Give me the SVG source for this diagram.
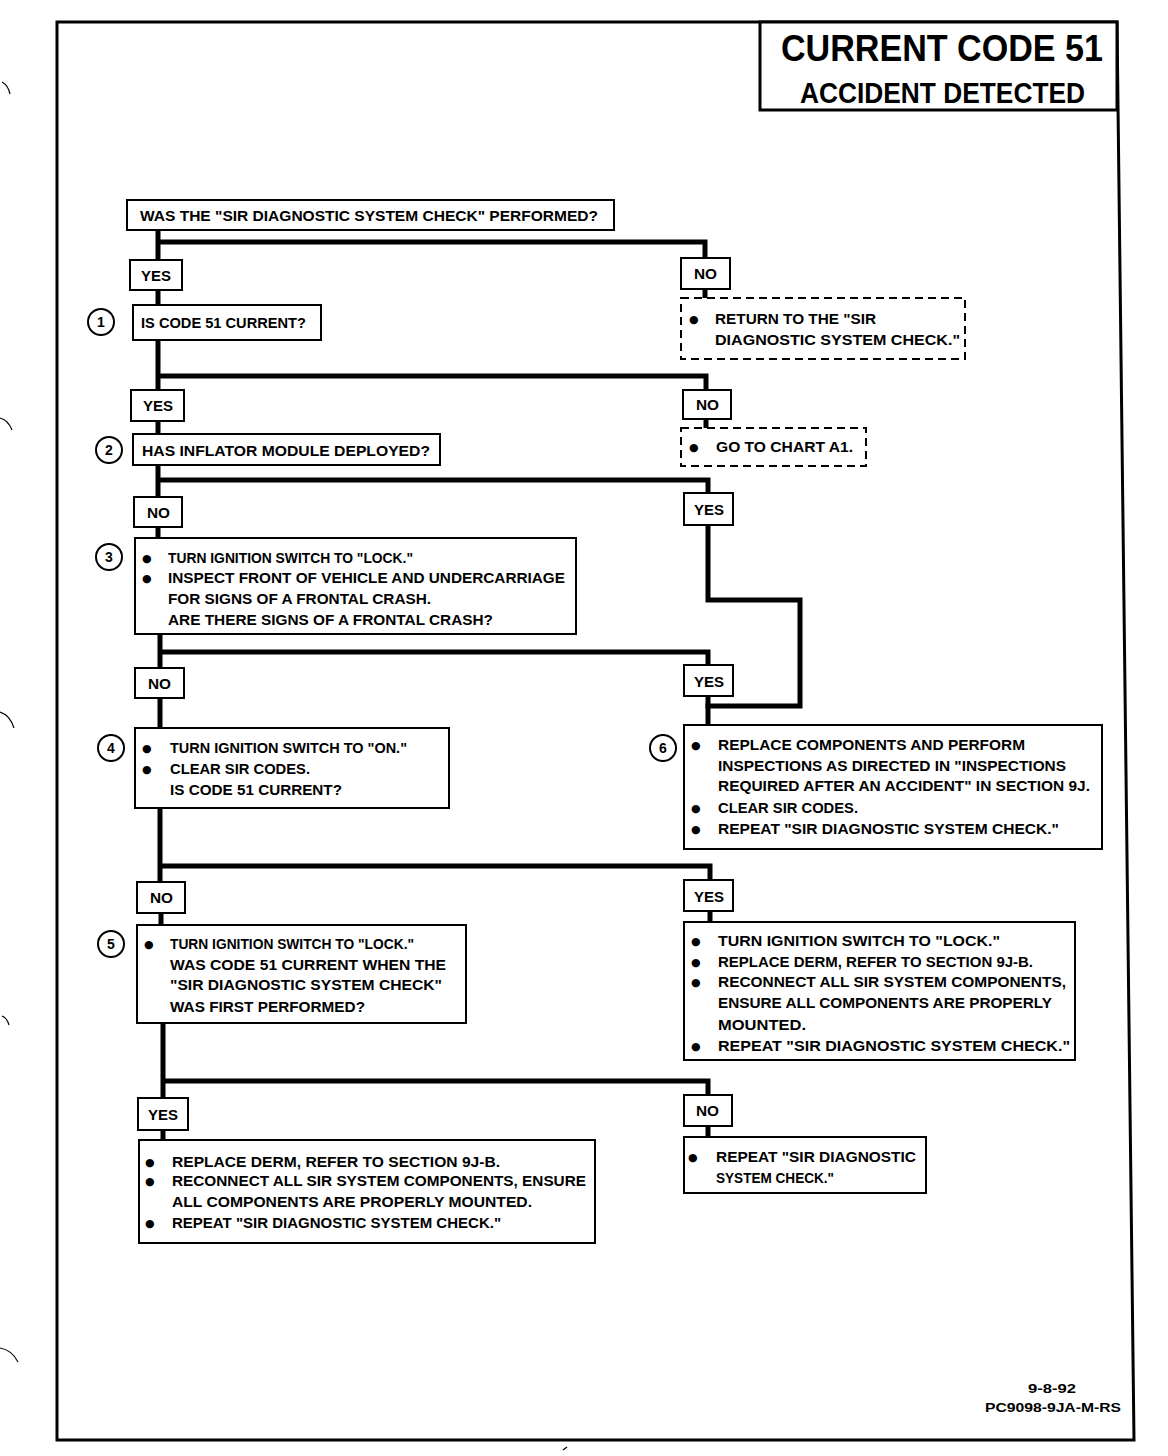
<svg xmlns="http://www.w3.org/2000/svg" width="1168" height="1456" viewBox="0 0 1168 1456">
<style>
.t{font-family:"Liberation Sans",Arial,sans-serif;font-weight:bold;font-size:15px;fill:#000}
.b{font-family:"DejaVu Sans","Liberation Sans",sans-serif;font-size:11px;fill:#000}
.n{font-family:"Liberation Sans",Arial,sans-serif;font-weight:bold;font-size:14px;fill:#000;text-anchor:middle}
.box{fill:#fff;stroke:#000;stroke-width:2}
.dash{fill:#fff;stroke:#000;stroke-width:2;stroke-dasharray:8 5}
.num{fill:#fff;stroke:#000;stroke-width:2}
.c{fill:none;stroke:#000;stroke-width:5;stroke-linejoin:miter;stroke-linecap:square}
</style>
<rect width="1168" height="1456" fill="#fff"/>
<g id="page">
<path d="M57,22 L1117,22 L1134,1440 L57,1440 Z" fill="none" stroke="#000" stroke-width="3"/>
<path d="M2,82 q6,3 8,12 M0,418 q8,2 12,12 M0,712 q10,3 14,16 M2,1016 q5,2 7,9 M0,1348 q12,2 18,14 M563,1450 l4,-3" fill="none" stroke="#000" stroke-width="1.2"/>
</g>
<g id="title">
<rect x="760" y="22" width="357" height="88" fill="#fff" stroke="#000" stroke-width="3"/>
<text x="781" y="61" class="t" style="font-size:36px" textLength="322" lengthAdjust="spacingAndGlyphs">CURRENT CODE 51</text>
<text x="800" y="103" class="t" style="font-size:29px" textLength="285" lengthAdjust="spacingAndGlyphs">ACCIDENT DETECTED</text>
</g>
<g id="connectors">
<path class="c" d="M158,230 V260 M158,242 H705 V258 M705,289 V298 M158,290 V305"/>
<path class="c" d="M158,340 V390 M158,376 H706 V390 M706,419 V428 M158,421 V434"/>
<path class="c" d="M158,465 V497 M158,480 H708 V493 M708,525 V600 H800 V706 H708 M158,527 V538"/>
<path class="c" d="M160,634 V668 M160,652 H708 V665 M708,696 V725 M160,698 V728"/>
<path class="c" d="M160,808 V882 M160,866 H710 V880 M710,911 V922 M161,913 V925"/>
<path class="c" d="M163,1023 V1098 M163,1081 H708 V1095 M708,1126 V1137 M163,1130 V1140"/>
</g>
<g id="q0">
<rect class="box" x="127" y="200" width="487" height="30"/>
<text class="t" x="140" y="221" textLength="458" lengthAdjust="spacingAndGlyphs">WAS THE "SIR DIAGNOSTIC SYSTEM CHECK" PERFORMED?</text>
</g>
<g id="yes1"><rect class="box" x="130" y="260" width="52" height="30"/><text class="t" x="141" y="281" textLength="30" lengthAdjust="spacingAndGlyphs">YES</text></g>
<g id="no1"><rect class="box" x="681" y="258" width="49" height="31"/><text class="t" x="694" y="279" textLength="23" lengthAdjust="spacingAndGlyphs">NO</text></g>
<g id="return1">
<rect class="dash" x="681" y="298" width="284" height="61"/>
<text class="b" x="689" y="323">●</text>
<text class="t" x="715" y="324" textLength="161" lengthAdjust="spacingAndGlyphs">RETURN TO THE "SIR</text>
<text class="t" x="715" y="345" textLength="245" lengthAdjust="spacingAndGlyphs">DIAGNOSTIC SYSTEM CHECK."</text>
</g>
<g id="step1">
<circle class="num" cx="101" cy="322" r="13"/><text class="n" x="101" y="327">1</text>
<rect class="box" x="133" y="305" width="188" height="35"/>
<text class="t" x="141" y="328" textLength="165" lengthAdjust="spacingAndGlyphs">IS CODE 51 CURRENT?</text>
</g>
<g id="yes2"><rect class="box" x="131" y="390" width="53" height="31"/><text class="t" x="143" y="411" textLength="30" lengthAdjust="spacingAndGlyphs">YES</text></g>
<g id="no2"><rect class="box" x="683" y="390" width="48" height="29"/><text class="t" x="696" y="410" textLength="23" lengthAdjust="spacingAndGlyphs">NO</text></g>
<g id="chartA1">
<rect class="dash" x="681" y="428" width="185" height="38"/>
<text class="b" x="689" y="451">●</text>
<text class="t" x="716" y="452" textLength="137" lengthAdjust="spacingAndGlyphs">GO TO CHART A1.</text>
</g>
<g id="step2">
<circle class="num" cx="109" cy="450" r="13"/><text class="n" x="109" y="455">2</text>
<rect class="box" x="133" y="434" width="307" height="31"/>
<text class="t" x="142" y="456" textLength="288" lengthAdjust="spacingAndGlyphs">HAS INFLATOR MODULE DEPLOYED?</text>
</g>
<g id="no3"><rect class="box" x="134" y="497" width="48" height="30"/><text class="t" x="147" y="518" textLength="23" lengthAdjust="spacingAndGlyphs">NO</text></g>
<g id="yes3"><rect class="box" x="684" y="493" width="49" height="32"/><text class="t" x="694" y="515" textLength="30" lengthAdjust="spacingAndGlyphs">YES</text></g>
<g id="step3">
<circle class="num" cx="109" cy="557" r="13"/><text class="n" x="109" y="562">3</text>
<rect class="box" x="135" y="538" width="441" height="96"/>
<text class="b" x="142" y="562">●</text>
<text class="t" x="168" y="563" textLength="245" lengthAdjust="spacingAndGlyphs">TURN IGNITION SWITCH TO "LOCK."</text>
<text class="b" x="142" y="582">●</text>
<text class="t" x="168" y="583" textLength="397" lengthAdjust="spacingAndGlyphs">INSPECT FRONT OF VEHICLE AND UNDERCARRIAGE</text>
<text class="t" x="168" y="604" textLength="263" lengthAdjust="spacingAndGlyphs">FOR SIGNS OF A FRONTAL CRASH.</text>
<text class="t" x="168" y="625" textLength="325" lengthAdjust="spacingAndGlyphs">ARE THERE SIGNS OF A FRONTAL CRASH?</text>
</g>
<g id="no4"><rect class="box" x="135" y="668" width="49" height="30"/><text class="t" x="148" y="689" textLength="23" lengthAdjust="spacingAndGlyphs">NO</text></g>
<g id="yes4"><rect class="box" x="684" y="665" width="49" height="31"/><text class="t" x="694" y="687" textLength="30" lengthAdjust="spacingAndGlyphs">YES</text></g>
<g id="step4">
<circle class="num" cx="111" cy="748" r="13"/><text class="n" x="111" y="753">4</text>
<rect class="box" x="135" y="728" width="314" height="80"/>
<text class="b" x="142" y="752">●</text>
<text class="t" x="170" y="753" textLength="237" lengthAdjust="spacingAndGlyphs">TURN IGNITION SWITCH TO "ON."</text>
<text class="b" x="142" y="773">●</text>
<text class="t" x="170" y="774" textLength="140" lengthAdjust="spacingAndGlyphs">CLEAR SIR CODES.</text>
<text class="t" x="170" y="795" textLength="172" lengthAdjust="spacingAndGlyphs">IS CODE 51 CURRENT?</text>
</g>
<g id="step6">
<circle class="num" cx="663" cy="748" r="13"/><text class="n" x="663" y="753">6</text>
<rect class="box" x="684" y="725" width="418" height="124"/>
<text class="b" x="691" y="749">●</text>
<text class="t" x="718" y="750" textLength="307" lengthAdjust="spacingAndGlyphs">REPLACE COMPONENTS AND PERFORM</text>
<text class="t" x="718" y="771" textLength="348" lengthAdjust="spacingAndGlyphs">INSPECTIONS AS DIRECTED IN "INSPECTIONS</text>
<text class="t" x="718" y="791" textLength="372" lengthAdjust="spacingAndGlyphs">REQUIRED AFTER AN ACCIDENT" IN SECTION 9J.</text>
<text class="b" x="691" y="812">●</text>
<text class="t" x="718" y="813" textLength="140" lengthAdjust="spacingAndGlyphs">CLEAR SIR CODES.</text>
<text class="b" x="691" y="833">●</text>
<text class="t" x="718" y="834" textLength="341" lengthAdjust="spacingAndGlyphs">REPEAT "SIR DIAGNOSTIC SYSTEM CHECK."</text>
</g>
<g id="no5"><rect class="box" x="137" y="882" width="48" height="31"/><text class="t" x="150" y="903" textLength="23" lengthAdjust="spacingAndGlyphs">NO</text></g>
<g id="yes5"><rect class="box" x="684" y="880" width="49" height="31"/><text class="t" x="694" y="902" textLength="30" lengthAdjust="spacingAndGlyphs">YES</text></g>
<g id="step5">
<circle class="num" cx="111" cy="944" r="13"/><text class="n" x="111" y="949">5</text>
<rect class="box" x="137" y="925" width="329" height="98"/>
<text class="b" x="144" y="948">●</text>
<text class="t" x="170" y="949" textLength="244" lengthAdjust="spacingAndGlyphs">TURN IGNITION SWITCH TO "LOCK."</text>
<text class="t" x="170" y="970" textLength="276" lengthAdjust="spacingAndGlyphs">WAS CODE 51 CURRENT WHEN THE</text>
<text class="t" x="170" y="990" textLength="272" lengthAdjust="spacingAndGlyphs">"SIR DIAGNOSTIC SYSTEM CHECK"</text>
<text class="t" x="170" y="1012" textLength="195" lengthAdjust="spacingAndGlyphs">WAS FIRST PERFORMED?</text>
</g>
<g id="replaceDerm1">
<rect class="box" x="684" y="922" width="391" height="138"/>
<text class="b" x="691" y="945">●</text>
<text class="t" x="718" y="946" textLength="282" lengthAdjust="spacingAndGlyphs">TURN IGNITION SWITCH TO "LOCK."</text>
<text class="b" x="691" y="966">●</text>
<text class="t" x="718" y="967" textLength="315" lengthAdjust="spacingAndGlyphs">REPLACE DERM, REFER TO SECTION 9J-B.</text>
<text class="b" x="691" y="986">●</text>
<text class="t" x="718" y="987" textLength="348" lengthAdjust="spacingAndGlyphs">RECONNECT ALL SIR SYSTEM COMPONENTS,</text>
<text class="t" x="718" y="1008" textLength="334" lengthAdjust="spacingAndGlyphs">ENSURE ALL COMPONENTS ARE PROPERLY</text>
<text class="t" x="718" y="1030" textLength="88" lengthAdjust="spacingAndGlyphs">MOUNTED.</text>
<text class="b" x="691" y="1050">●</text>
<text class="t" x="718" y="1051" textLength="352" lengthAdjust="spacingAndGlyphs">REPEAT "SIR DIAGNOSTIC SYSTEM CHECK."</text>
</g>
<g id="yes6"><rect class="box" x="138" y="1098" width="50" height="32"/><text class="t" x="148" y="1120" textLength="30" lengthAdjust="spacingAndGlyphs">YES</text></g>
<g id="no6"><rect class="box" x="684" y="1095" width="48" height="31"/><text class="t" x="696" y="1116" textLength="23" lengthAdjust="spacingAndGlyphs">NO</text></g>
<g id="replaceDerm2">
<rect class="box" x="139" y="1140" width="456" height="103"/>
<text class="b" x="145" y="1166">●</text>
<text class="t" x="172" y="1167" textLength="328" lengthAdjust="spacingAndGlyphs">REPLACE DERM, REFER TO SECTION 9J-B.</text>
<text class="b" x="145" y="1185">●</text>
<text class="t" x="172" y="1186" textLength="414" lengthAdjust="spacingAndGlyphs">RECONNECT ALL SIR SYSTEM COMPONENTS, ENSURE</text>
<text class="t" x="172" y="1207" textLength="360" lengthAdjust="spacingAndGlyphs">ALL COMPONENTS ARE PROPERLY MOUNTED.</text>
<text class="b" x="145" y="1227">●</text>
<text class="t" x="172" y="1228" textLength="329" lengthAdjust="spacingAndGlyphs">REPEAT "SIR DIAGNOSTIC SYSTEM CHECK."</text>
</g>
<g id="repeat">
<rect class="box" x="684" y="1137" width="242" height="56"/>
<text class="b" x="688" y="1161">●</text>
<text class="t" x="716" y="1162" textLength="200" lengthAdjust="spacingAndGlyphs">REPEAT "SIR DIAGNOSTIC</text>
<text class="t" x="716" y="1183" textLength="118" lengthAdjust="spacingAndGlyphs">SYSTEM CHECK."</text>
</g>
<g id="footer">
<text class="t" x="1052" y="1393" style="font-size:13px;text-anchor:middle" textLength="48" lengthAdjust="spacingAndGlyphs">9-8-92</text>
<text class="t" x="985" y="1412" style="font-size:13px" textLength="136" lengthAdjust="spacingAndGlyphs">PC9098-9JA-M-RS</text>
</g>
</svg>
